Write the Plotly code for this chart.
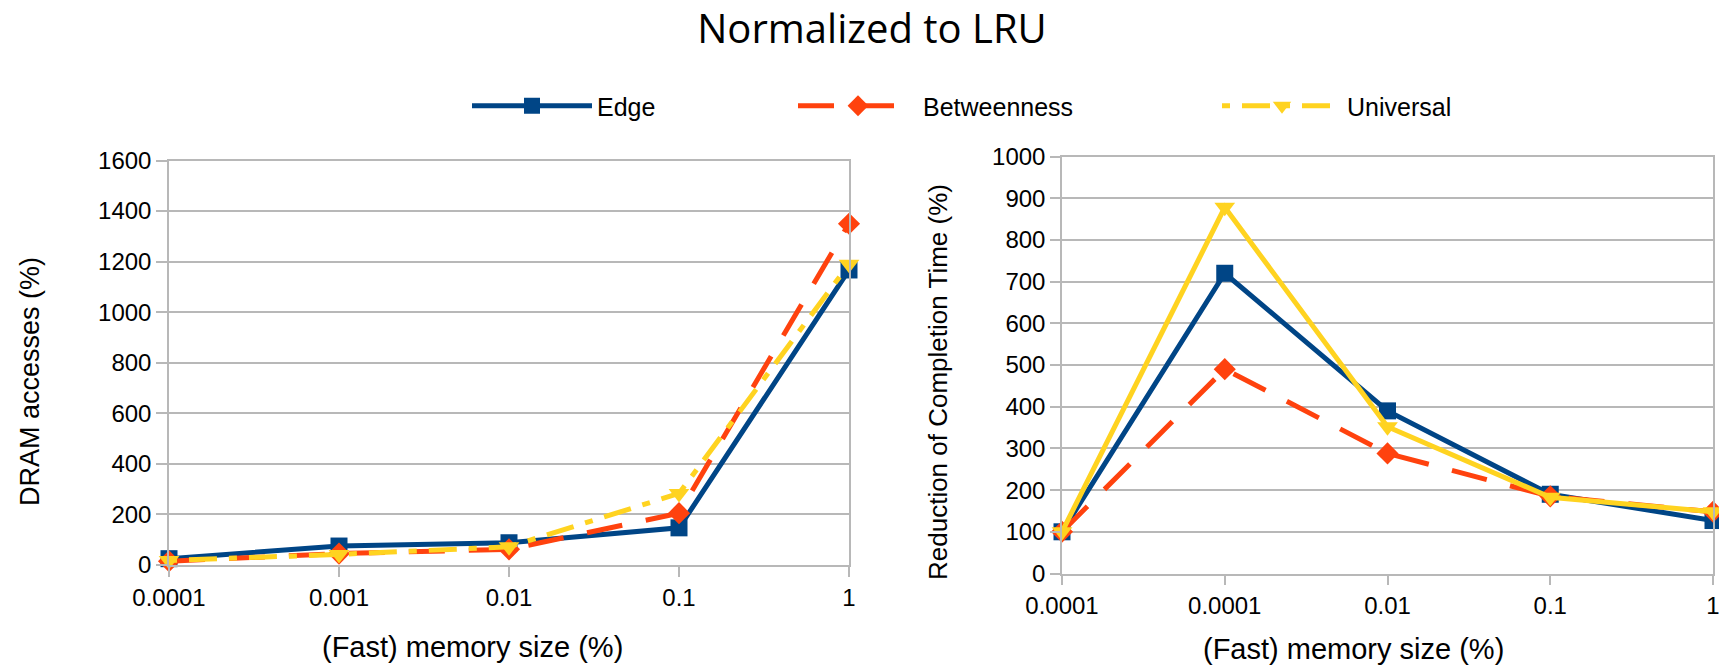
import plotly.graph_objects as go

# ---------------- data ----------------
left_categories = ["0.0001", "0.001", "0.01", "0.1", "1"]
right_categories = ["0.0001", "0.0001", "0.01", "0.1", "1"]

dram_edge = [25, 75, 88, 147, 1167]
dram_betweenness = [15, 45, 62, 205, 1350]
dram_universal = [18, 42, 72, 283, 1190]

time_edge = [100, 720, 390, 190, 127]
time_betweenness = [100, 490, 288, 185, 148]
time_universal = [100, 878, 352, 183, 148]

series_names = ["Edge", "Betweenness", "Universal"]

# ---------------- styles ----------------
W, H = 1719, 668
C_EDGE = "#004586"
C_BET = "#ff420e"
C_UNI = "#ffd320"
GRID = "#b8b8b8"
FONT = "Liberation Sans, Arial, sans-serif"


def fx(px):
    return px / W


def fy(py):
    return 1 - py / H


left_idx = list(range(len(left_categories)))
right_idx = list(range(len(right_categories)))

fig = go.Figure()

# left chart
fig.add_trace(go.Scatter(
    x=left_idx, y=dram_edge, name=series_names[0], mode="lines+markers",
    line=dict(color=C_EDGE, width=5),
    marker=dict(symbol="square", size=17, color=C_EDGE),
    cliponaxis=False, xaxis="x", yaxis="y", legend="legend"))
fig.add_trace(go.Scatter(
    x=left_idx, y=dram_betweenness, name=series_names[1], mode="lines+markers",
    line=dict(color=C_BET, width=5, dash="36px,24px"),
    marker=dict(symbol="diamond", size=17, color=C_BET),
    cliponaxis=False, xaxis="x", yaxis="y", legend="legend2"))
fig.add_trace(go.Scatter(
    x=left_idx, y=dram_universal, name=series_names[2], mode="lines+markers",
    line=dict(color=C_UNI, width=5, dash="8px,12px,28px,12px"),
    marker=dict(symbol="triangle-down", size=18, color=C_UNI),
    cliponaxis=False, xaxis="x", yaxis="y", legend="legend3"))

# right chart
fig.add_trace(go.Scatter(
    x=right_idx, y=time_edge, name=series_names[0], mode="lines+markers",
    line=dict(color=C_EDGE, width=5),
    marker=dict(symbol="square", size=17, color=C_EDGE),
    cliponaxis=False, xaxis="x2", yaxis="y2", showlegend=False))
fig.add_trace(go.Scatter(
    x=right_idx, y=time_betweenness, name=series_names[1], mode="lines+markers",
    line=dict(color=C_BET, width=5, dash="36px,24px"),
    marker=dict(symbol="diamond", size=17, color=C_BET),
    cliponaxis=False, xaxis="x2", yaxis="y2", showlegend=False))
fig.add_trace(go.Scatter(
    x=right_idx, y=time_universal, name=series_names[2], mode="lines+markers",
    line=dict(color=C_UNI, width=5),
    marker=dict(symbol="triangle-down", size=18, color=C_UNI),
    cliponaxis=False, xaxis="x2", yaxis="y2", showlegend=False))

axis_common = dict(
    showline=True, mirror=True, linecolor=GRID, linewidth=1.5,
    gridcolor=GRID, gridwidth=1.5, automargin=False,
    ticks="outside", tickcolor=GRID, tickwidth=1.5,
    zeroline=False, tickfont=dict(family=FONT, size=24, color="#000000"),
)

leg_common = dict(
    orientation="h", yanchor="middle", y=fy(106), xanchor="left",
    font=dict(family=FONT, size=25, color="#000000"),
    itemwidth=120, bgcolor="rgba(0,0,0,0)", borderwidth=0,
)

fig.update_layout(
    width=W, height=H,
    margin=dict(l=0, r=0, t=0, b=0, autoexpand=False),
    paper_bgcolor="white", plot_bgcolor="white",
    title=dict(text="Normalized to LRU", x=fx(872), xanchor="center",
               y=fy(29), yanchor="middle",
               font=dict(family="Open Sans, sans-serif", size=40, color="#000000")),
    xaxis=dict(domain=[fx(169), fx(849)], range=[0, 4], tickvals=left_idx,
               ticktext=left_categories, ticklen=10, anchor="y", showgrid=False,
               **axis_common),
    yaxis=dict(domain=[fy(565), fy(160.5)], range=[0, 1600], dtick=200,
               ticklen=11, anchor="x", showgrid=True, **axis_common),
    xaxis2=dict(domain=[fx(1062), fx(1713)], range=[0, 4], tickvals=right_idx,
                ticktext=right_categories, ticklen=10, anchor="y2", showgrid=False,
                ticklabeloverflow="allow", **axis_common),
    yaxis2=dict(domain=[fy(573.5), fy(156.5)], range=[0, 1000], dtick=100,
                ticklen=10, anchor="x2", showgrid=True, **axis_common),
    legend=dict(x=fx(467), **leg_common),
    legend2=dict(x=fx(793), **leg_common),
    legend3=dict(x=fx(1217), **leg_common),
    showlegend=True,
    annotations=[
        dict(text="(Fast) memory size (%)", x=fx(472), y=fy(647), xref="paper",
             yref="paper", showarrow=False, xanchor="center", yanchor="middle",
             font=dict(family=FONT, size=29, color="#000000")),
        dict(text="(Fast) memory size (%)", x=fx(1353), y=fy(649), xref="paper",
             yref="paper", showarrow=False, xanchor="center", yanchor="middle",
             font=dict(family=FONT, size=29, color="#000000")),
        dict(text="DRAM accesses (%)", x=fx(30), y=fy(382), xref="paper",
             yref="paper", showarrow=False, textangle=-90, xanchor="center",
             yanchor="middle", font=dict(family=FONT, size=27, color="#000000")),
        dict(text="Reduction of Completion Time (%)", x=fx(938), y=fy(382),
             xref="paper", yref="paper", showarrow=False, textangle=-90,
             xanchor="center", yanchor="middle",
             font=dict(family=FONT, size=26, color="#000000")),
    ],
)

fig.write_html(
    "out.html",
    config={"displayModeBar": False},
    post_script="document.body.style.margin='0';document.body.style.overflow='hidden';",
)
